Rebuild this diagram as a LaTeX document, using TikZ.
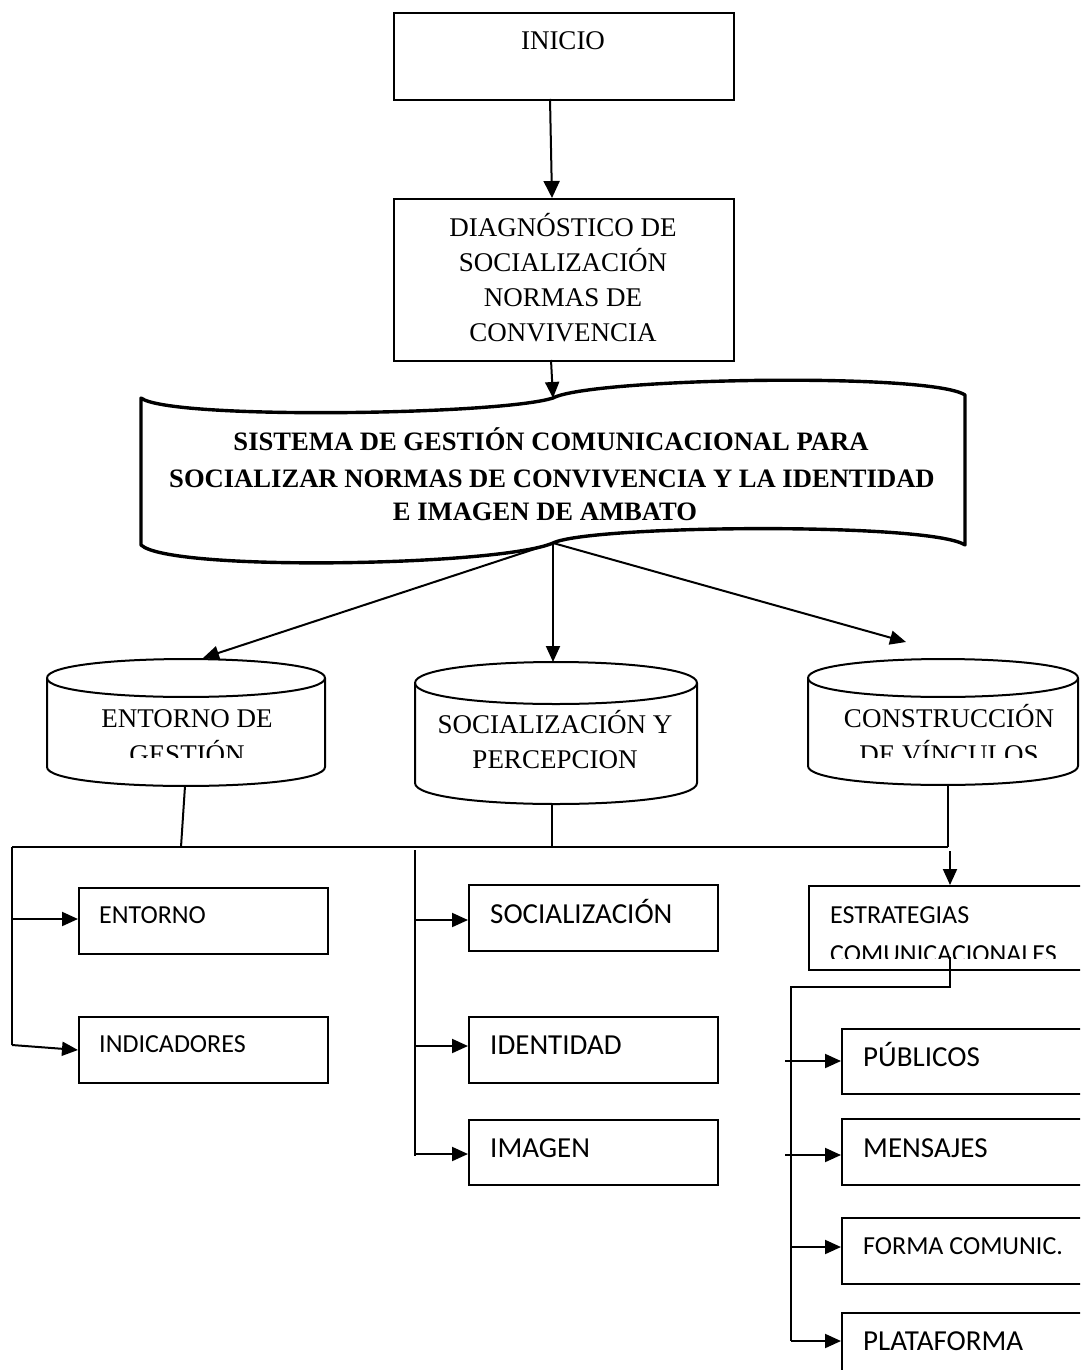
\documentclass[tikz,border=0pt]{standalone}
\usepackage{fontspec}
\setmainfont{Liberation Serif}
\newfontfamily\calibfont{Carlito}
\usetikzlibrary{arrows.meta}
\newcommand\tnrsz{\fontsize{27}{32}\selectfont}
\newcommand\bansz{\bfseries\fontsize{26.6}{32}\selectfont}
\newcommand\calsm{\calibfont\fontsize{26}{31}\selectfont}
\newcommand\calbg{\calibfont\fontsize{29}{34}\selectfont}
\begin{document}
\begin{tikzpicture}[x=1pt,y=-1pt,
  ln/.style={line width=2pt},
  arr/.style={line width=2pt,-{Triangle[length=16pt,width=14pt]}},
  bigarr/.style={line width=2pt,-{Triangle[length=17pt,width=16pt]}},
  boxn/.style={draw,line width=2pt,rectangle,inner sep=0pt,anchor=north west},
  txt/.style={inner sep=0pt,anchor=base},
  ltxt/.style={inner sep=0pt,anchor=base west},
  cyl/.style={line width=2pt,line join=round},
]
\path[use as bounding box] (0,0) rectangle (1080,1370);
\clip (0,0) rectangle (1080,1370);

% ---- top boxes
\node[boxn,minimum width=340pt,minimum height=87pt] (inicio) at (393,12) {};
\node[txt,font=\tnrsz] (tinicio) at (563,50) {INICIO};
\node[boxn,minimum width=340pt,minimum height=162pt] (diag) at (393,198) {};
\node[txt,font=\tnrsz] (td1) at (563,236) {DIAGNÓSTICO DE};
\node[txt,font=\tnrsz] (td2) at (563,271) {SOCIALIZACIÓN};
\node[txt,font=\tnrsz] (td3) at (563,306) {NORMAS DE};
\node[txt,font=\tnrsz] (td4) at (563,341) {CONVIVENCIA};

\coordinate (inicioout) at (550,99);
\coordinate (diagin) at (552,198);
\draw[bigarr] (inicioout) -- (diagin);

% ---- banner
\coordinate (bantop) at (553,398);
\coordinate (banbot) at (553,543);
\draw[line width=3.4pt,line join=round]
  (141,398) .. controls (170,420) and (500,415) .. (bantop)
  .. controls (590,378) and (930,372) .. (965,395) -- (965,545)
  .. controls (930,522) and (590,525) .. (banbot)
  .. controls (500,566) and (170,572) .. (141,545) -- cycle;
\node[txt,font=\bansz] (tb1) at (551,450) {SISTEMA DE GESTIÓN COMUNICACIONAL PARA};
\node[txt,font=\bansz] (tb2) at (552,487) {SOCIALIZAR NORMAS DE CONVIVENCIA Y LA IDENTIDAD};
\node[txt,font=\bansz] (tb3) at (545,520) {E IMAGEN DE AMBATO};

\coordinate (diagout) at (551,360);
\draw[arr] (diagout) -- (bantop);

% ---- cylinders
% left
\draw[cyl] (47,678) .. controls (47,652.7) and (325,652.7) .. (325,678)
  .. controls (325,703.3) and (47,703.3) .. (47,678);
\draw[cyl] (47,678) -- (47,767) .. controls (47,792.3) and (325,792.3) .. (325,767) -- (325,678);
\node[txt,font=\tnrsz] (tc1a) at (187,727) {ENTORNO DE};
\begin{scope}
\clip (47,735) rectangle (325,757);
\node[txt,font=\tnrsz] (tc1b) at (187,763) {GESTIÓN};
\end{scope}
% middle
\draw[cyl] (415,683) .. controls (415,655) and (697,655) .. (697,683)
  .. controls (697,711) and (415,711) .. (415,683);
\draw[cyl] (415,683) -- (415,783) .. controls (415,811) and (697,811) .. (697,783) -- (697,683);
\node[txt,font=\tnrsz] (tc2a) at (555,733) {SOCIALIZACIÓN Y};
\node[txt,font=\tnrsz] (tc2b) at (555,768) {PERCEPCION};
% right
\draw[cyl] (808,678) .. controls (808,652.7) and (1078,652.7) .. (1078,678)
  .. controls (1078,703.3) and (808,703.3) .. (808,678);
\draw[cyl] (808,678) -- (808,766) .. controls (808,791.3) and (1078,791.3) .. (1078,766) -- (1078,678);
\node[txt,font=\tnrsz] (tc3a) at (949,727) {CONSTRUCCIÓN};
\begin{scope}
\clip (808,735) rectangle (1078,757);
\node[txt,font=\tnrsz] (tc3b) at (949,763) {DE VÍNCULOS};
\end{scope}

\coordinate (cyl1in) at (203,658);
\coordinate (cyl2in) at (553,662);
\coordinate (cyl3in) at (906,642);
\draw[arr] (banbot) -- (cyl1in);
\draw[arr] (banbot) -- (cyl2in);
\draw[arr] (banbot) -- (cyl3in);

% ---- distribution lines
\coordinate (c1out) at (185,786); \coordinate (j1) at (181,847);
\coordinate (c2out) at (552,805); \coordinate (j2) at (552,847);
\coordinate (c3out) at (948,785); \coordinate (j3) at (948,847);
\coordinate (jl) at (12,847);
\draw[ln] (c1out) -- (j1);
\draw[ln] (c2out) -- (j2);
\draw[ln] (c3out) -- (j3);
\draw[ln] (jl) -- (j3);

% ---- left column
\node[boxn,minimum width=249pt,minimum height=66pt] (entorno) at (78,887) {};
\node[ltxt,font=\calsm] (tentorno) at (99,923) {ENTORNO};
\node[boxn,minimum width=249pt,minimum height=66pt] (indicadores) at (78,1016) {};
\node[ltxt,font=\calsm] (tindic) at (99,1052) {INDICADORES};
\coordinate (lv1) at (12,919);
\coordinate (lvend) at (12,1045);
\draw[ln] (jl) -- (lvend);
\draw[arr] (lv1) -- (lv1 -| entorno.west);
\draw[arr] (lvend) -- (indicadores.west);

% ---- middle column
\node[boxn,minimum width=249pt,minimum height=66pt] (socializacion) at (468,884) {};
\node[ltxt,font=\calbg] (tsoc) at (490,923) {SOCIALIZACIÓN};
\node[boxn,minimum width=249pt,minimum height=66pt] (identidad) at (468,1016) {};
\node[ltxt,font=\calbg] (tiden) at (490,1054) {IDENTIDAD};
\node[boxn,minimum width=249pt,minimum height=65pt] (imagen) at (468,1119) {};
\node[ltxt,font=\calbg] (timag) at (490,1157) {IMAGEN};
\coordinate (mtop) at (415,850);
\coordinate (mbot) at (415,1156);
\coordinate (m1) at (415,920);
\coordinate (m2) at (415,1046);
\coordinate (m3) at (415,1154);
\draw[ln] (mtop) -- (mbot);
\draw[arr] (m1) -- (m1 -| socializacion.west);
\draw[arr] (m2) -- (m2 -| identidad.west);
\draw[arr] (m3) -- (m3 -| imagen.west);

% ---- right column
\node[boxn,minimum width=290pt,minimum height=84pt] (estrategias) at (808,885) {};
\node[ltxt,font=\calsm] (test1) at (830,923) {ESTRATEGIAS};
\begin{scope}
\clip (808,935) rectangle (1080,958);
\node[ltxt,font=\calsm] (test2) at (830,962) {COMUNICACIONALES};
\end{scope}
\coordinate (r0) at (950,851);
\draw[arr] (r0) -- (r0 |- estrategias.north);

\node[boxn,minimum width=249pt,minimum height=65pt] (publicos) at (841,1028) {};
\node[ltxt,font=\calbg] (tpub) at (863,1066) {PÚBLICOS};
\node[boxn,minimum width=249pt,minimum height=66pt] (mensajes) at (841,1118) {};
\node[ltxt,font=\calbg] (tmen) at (863,1157) {MENSAJES};
\node[boxn,minimum width=249pt,minimum height=66pt] (forma) at (841,1217) {};
\node[ltxt,font=\calsm] (tfor) at (863,1254) {FORMA COMUNIC.};
\node[boxn,minimum width=249pt,minimum height=70pt] (plataforma) at (841,1312) {};
\node[ltxt,font=\calbg] (tpla) at (863,1350) {PLATAFORMA};

\coordinate (sout) at (950,957);
\coordinate (bus) at (791,987);
\coordinate (busend) at (791,1341);
\draw[ln] (sout) |- (bus) -- (busend);
\coordinate (p1) at (785,1061);
\coordinate (p2) at (785,1155);
\coordinate (p3) at (791,1247);
\draw[arr] (p1) -- (p1 -| publicos.west);
\draw[arr] (p2) -- (p2 -| mensajes.west);
\draw[arr] (p3) -- (p3 -| forma.west);
\draw[arr] (busend) -- (busend -| plataforma.west);
\end{tikzpicture}
\end{document}
